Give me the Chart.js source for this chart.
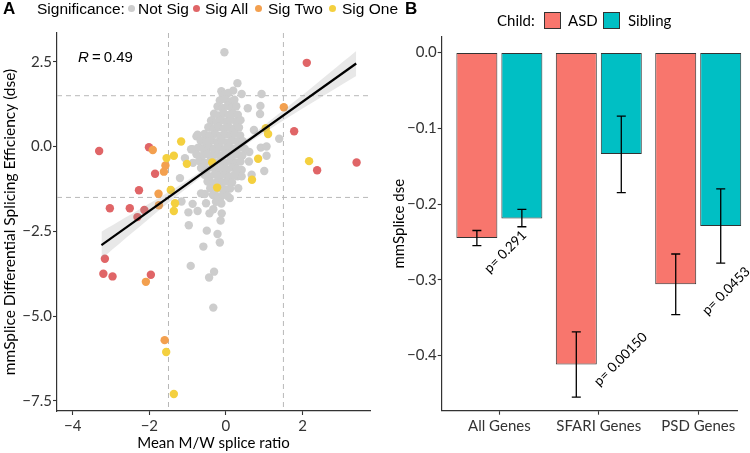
<!DOCTYPE html>
<html>
<head>
<meta charset="utf-8">
<script src="https://cdn.jsdelivr.net/npm/chart.js@4.4.1/dist/chart.umd.min.js"></script>
<style>
html, body { margin: 0; padding: 0; background: #fff; }
#wrap { position: relative; width: 750px; height: 453px; overflow: hidden; }
canvas { position: absolute; top: 0; }
#cA { left: 0; }
#cB { left: 385px; }
.t { position: absolute; white-space: nowrap; color: #000; z-index: 2; }
.panel { font: bold 17px 'Liberation Sans', Arial, sans-serif; top: 0; line-height: 17px; }
.sig { font: 15.5px 'Liberation Sans', Arial, sans-serif; line-height: 17px; top: 0; }
.dot { position: absolute; width: 7px; height: 7px; border-radius: 50%; top: 5px; z-index: 2; }
.child { font: 15px Lato, sans-serif; line-height: 18px; top: 11px; }
.sw { position: absolute; top: 12px; width: 15px; height: 15px; border: 1px solid #333; z-index: 2; }
</style>
</head>
<body>
<div id="wrap">
  <canvas id="cA" width="400" height="453"></canvas>
  <canvas id="cB" width="365" height="453"></canvas>

  <div class="t panel" style="left:3px">A</div>
  <div class="t sig" style="left:37px">Significance:</div>
  <div class="dot" style="left:128px;background:#cdcdcd"></div>
  <div class="t sig" style="left:138px">Not Sig</div>
  <div class="dot" style="left:193px;background:#e06567"></div>
  <div class="t sig" style="left:205px">Sig All</div>
  <div class="dot" style="left:255px;background:#f3a04f"></div>
  <div class="t sig" style="left:268px">Sig Two</div>
  <div class="dot" style="left:329px;background:#f4d03f"></div>
  <div class="t sig" style="left:342px">Sig One</div>

  <div class="t panel" style="left:405px">B</div>
  <div class="t child" style="left:497px">Child:</div>
  <div class="sw" style="left:544px;background:#F8766D"></div>
  <div class="t child" style="left:568px">ASD</div>
  <div class="sw" style="left:603px;background:#00BFC4"></div>
  <div class="t child" style="left:628px">Sibling</div>
</div>

<script>
// ---------- panel A data ----------
const xTicksA = [-4, -2, 0, 2];
const yTicksA = [-7.5, -5, -2.5, 0, 2.5];
const cutoffs = [-1.5, 1.5];

const notSig = [
  [-0.04, 2.78], [0.30, 1.87], [-0.12, 1.63], [0.19, 1.65], [0.41, 1.55], [0.57, 1.13], [0.90, 1.20],
  [0.89, 0.96], [1.39, 0.23], [0.91, -0.03], [1.06, -0.27], [0.60, -0.44], [0.41, -0.69], [0.30, -0.88],
  [-0.11, -1.97], [-0.55, -1.40], [0.73, 0.49], [0.93, 1.55], [-0.39, 0.76], [-0.42, 0.57], [-0.50, 0.30],
  [-0.77, 0.30], [-0.87, -0.08], [-1.07, -0.34], [-0.59, -0.05], [1.06, 0.0], [0.61, -0.16], [-1.20, -0.93],
  [-1.16, -1.62], [-0.87, -1.69], [-0.74, -1.90], [-0.65, -1.38], [-0.52, -1.67], [-0.43, -1.97],
  [-0.33, -1.85], [-0.16, -1.57], [-0.14, -2.18], [-0.97, -2.32], [-0.50, -2.48], [-0.22, -2.58],
  [-0.16, -2.83], [-0.59, -2.95], [-0.92, -3.52], [-0.31, -3.69], [-0.44, -3.86], [-0.33, -4.75],
  [0.32, -1.23], [0.41, -0.88], [0.67, -0.83], [1.00, -0.72], [0.10, -1.52], [-0.74, 0.35],
  [-0.91, -0.08], [-0.98, -1.94], [-0.86, -0.48],
  // dense cloud
  [-0.08, 1.52], [0.06, 1.58],
  [-0.16, 1.36], [-0.02, 1.40], [0.11, 1.33], [0.22, 1.38],
  [-0.22, 1.18], [-0.09, 1.13], [0.04, 1.20], [0.15, 1.14], [0.27, 1.19],
  [-0.31, 0.97], [-0.19, 0.92], [-0.06, 0.99], [0.07, 0.93], [0.19, 0.98], [0.31, 0.94],
  [-0.37, 0.77], [-0.24, 0.72], [-0.11, 0.78], [0.01, 0.73], [0.13, 0.79], [0.26, 0.74], [0.38, 0.78],
  [-0.46, 0.57], [-0.31, 0.52], [-0.18, 0.58], [-0.05, 0.53], [0.08, 0.57], [0.21, 0.52], [0.34, 0.56],
  [-0.56, 0.37], [-0.42, 0.33], [-0.28, 0.38], [-0.15, 0.32], [-0.02, 0.36], [0.11, 0.34], [0.24, 0.38], [0.37, 0.33],
  [-0.66, 0.17], [-0.51, 0.12], [-0.37, 0.18], [-0.23, 0.13], [-0.10, 0.17], [0.03, 0.12], [0.16, 0.18], [0.30, 0.14], [0.44, 0.16],
  [-0.72, -0.03], [-0.58, -0.08], [-0.44, -0.02], [-0.31, -0.07], [-0.17, -0.03], [-0.04, -0.08], [0.09, -0.02], [0.22, -0.07], [0.36, -0.03], [0.49, -0.06],
  [-0.77, -0.23], [-0.62, -0.28], [-0.48, -0.22], [-0.35, -0.27], [-0.22, -0.23], [-0.09, -0.28], [0.04, -0.22], [0.17, -0.27], [0.30, -0.23], [0.43, -0.26],
  [-0.70, -0.43], [-0.55, -0.48], [-0.41, -0.42], [-0.28, -0.47], [-0.15, -0.43], [-0.02, -0.48], [0.11, -0.42], [0.25, -0.47], [0.38, -0.44],
  [-0.65, -0.63], [-0.50, -0.68], [-0.36, -0.62], [-0.23, -0.67], [-0.10, -0.63], [0.03, -0.68], [0.16, -0.62], [0.29, -0.66],
  [-0.56, -0.83], [-0.42, -0.88], [-0.29, -0.82], [-0.16, -0.87], [-0.03, -0.83], [0.10, -0.88], [0.22, -0.84],
  [-0.48, -1.03], [-0.35, -1.08], [-0.22, -1.02], [-0.09, -1.07], [0.04, -1.03], [0.16, -1.06],
  [-0.41, -1.23], [-0.28, -1.28], [-0.14, -1.22], [-0.01, -1.27], [0.11, -1.24],
  [-0.34, -1.43], [-0.21, -1.48], [-0.08, -1.42], [0.04, -1.46],
  [-0.26, -1.63], [-0.12, -1.68]
];
const sigAll = [
  [-3.31, -0.13], [-2.01, -0.02], [-1.85, -0.80], [-2.27, -1.29], [-3.03, -1.82], [-2.51, -1.82],
  [-2.13, -1.87], [-2.31, -2.08], [-3.16, -3.31], [-3.20, -3.75], [-2.96, -3.83], [-1.96, -3.78],
  [2.11, 2.47], [1.78, 0.45], [2.38, -0.70], [3.41, -0.47]
];
const sigTwo = [
  [-1.91, -0.10], [-1.58, -0.56], [-1.62, -0.74], [-1.76, -1.39], [-1.75, -1.73], [-2.09, -3.99],
  [-1.60, -5.71], [1.51, 1.16]
];
const sigOne = [
  [-1.17, 0.15], [-1.36, -0.27], [-1.55, -0.34], [-1.02, -0.51], [-1.44, -1.28], [-1.33, -1.67],
  [-1.36, -1.90], [-1.56, -6.06], [-1.36, -7.30], [1.10, 0.37], [1.04, 0.54], [2.17, -0.43],
  [0.84, -0.36], [0.68, -0.98], [-0.23, -1.21], [-0.36, -0.47]
];

// regression line and its confidence band
const fitX = [-3.25, 3.40];
const fitY = [-2.91, 2.45];
const bandX = [-3.25, -2, -1, 0, 1, 2, 3.4];
const bandUpper = [-2.51, -1.68, -0.99, -0.23, 0.63, 1.52, 2.82];
const bandLower = [-3.31, -2.12, -1.21, -0.35, 0.41, 1.12, 2.08];
const rText = '0.49';

// ---------- panel B data ----------
const categories = ['All Genes', 'SFARI Genes', 'PSD Genes'];
const asdMean = [-0.245, -0.412, -0.306];
const asdLo = [-0.255, -0.455, -0.346];
const asdHi = [-0.235, -0.369, -0.266];
const sibMean = [-0.219, -0.134, -0.229];
const sibLo = [-0.230, -0.185, -0.278];
const sibHi = [-0.207, -0.084, -0.180];
const yTicksB = [-0.4, -0.3, -0.2, -0.1, 0];
const pLabels = ['p= 0.291', 'p= 0.00150', 'p= 0.0453'];
const pLabelX = [1.06, 2.22, 3.28];
const pLabelY = [-0.263, -0.405, -0.315];

Chart.defaults.font.family = "Lato, 'Open Sans', sans-serif";
Chart.defaults.animation = false;

const minus = s => String(s).replace('-', '\u2212');
const toXY = arr => arr.map(p => ({ x: p[0], y: p[1] }));
const zip = (xs, ys) => xs.map((x, i) => ({ x: x, y: ys[i] }));

function axisStyle(extra) {
  return Object.assign({
    grid: { display: true, drawOnChartArea: false, drawTicks: true, tickLength: 4, tickColor: '#333', tickWidth: 1.1, offset: false },
    border: { display: true, color: '#333', width: 1.2 },
  }, extra);
}

// dashed cut-off lines + R label
const guidesA = {
  id: 'guidesA',
  beforeDatasetsDraw(chart) {
    const { ctx, chartArea: a, scales: { x, y } } = chart;
    ctx.save();
    ctx.strokeStyle = '#b8b8b8';
    ctx.lineWidth = 1;
    ctx.setLineDash([5, 4]);
    cutoffs.forEach(c => {
      const px = x.getPixelForValue(c);
      ctx.beginPath(); ctx.moveTo(px, a.top); ctx.lineTo(px, a.bottom); ctx.stroke();
      const py = y.getPixelForValue(c);
      ctx.beginPath(); ctx.moveTo(a.left, py); ctx.lineTo(a.right, py); ctx.stroke();
    });
    ctx.restore();
  },
  afterDatasetsDraw(chart) {
    const { ctx, scales: { x, y } } = chart;
    const px = x.getPixelForValue(-3.86), py = y.getPixelForValue(2.62);
    ctx.save();
    ctx.fillStyle = '#000';
    ctx.textBaseline = 'middle';
    ctx.font = "italic 15px 'Liberation Sans', Arial, sans-serif";
    ctx.fillText('R', px, py);
    const w = ctx.measureText('R').width;
    ctx.font = "15px 'Liberation Sans', Arial, sans-serif";
    ctx.fillText('\u2009=\u2009' + rText, px + w, py);
    ctx.restore();
  }
};

new Chart(document.getElementById('cA'), {
  type: 'scatter',
  data: {
    datasets: [
      { type: 'line', data: zip(fitX, fitY), borderColor: '#000', borderWidth: 2.2, pointRadius: 0, order: 0 },
      { type: 'line', data: zip(bandX, bandUpper), borderWidth: 0, pointRadius: 0, tension: 0.3,
        fill: '+1', backgroundColor: 'rgba(150,150,150,0.22)', order: 1 },
      { type: 'line', data: zip(bandX, bandLower), borderWidth: 0, pointRadius: 0, tension: 0.3, fill: false, order: 1 },
      { label: 'Sig One', data: toXY(sigOne), backgroundColor: '#f4d03f', pointRadius: 4.2, pointBorderWidth: 0, order: 2 },
      { label: 'Sig Two', data: toXY(sigTwo), backgroundColor: '#f3a04f', pointRadius: 4.2, pointBorderWidth: 0, order: 3 },
      { label: 'Sig All', data: toXY(sigAll), backgroundColor: '#e06567', pointRadius: 4.2, pointBorderWidth: 0, order: 4 },
      { label: 'Not Sig', data: toXY(notSig), backgroundColor: '#cdcdcd', pointRadius: 4.2, pointBorderWidth: 0, order: 5 }
    ]
  },
  options: {
    responsive: false,
    devicePixelRatio: 1,
    layout: { padding: { left: 0, top: 33, right: 30, bottom: 0 } },
    plugins: { legend: { display: false }, tooltip: { enabled: false } },
    scales: {
      x: axisStyle({
        type: 'linear', min: -4.41, max: 3.76,
        afterBuildTicks: s => { s.ticks = xTicksA.map(v => ({ value: v })); },
        afterFit: s => { s.height = 42; },
        ticks: { callback: v => minus(v), font: { size: 15 }, color: '#333', padding: 2, maxRotation: 0, autoSkip: false },
        title: { display: true, text: 'Mean M/W splice ratio', font: { size: 15 }, color: '#000', padding: { top: 0, bottom: 1 } }
      }),
      y: axisStyle({
        type: 'linear', min: -7.8, max: 3.35,
        afterBuildTicks: s => { s.ticks = yTicksA.map(v => ({ value: v })); },
        afterFit: s => { s.width = 57; },
        ticks: { callback: v => minus(v.toFixed(1)), font: { size: 15 }, color: '#333', padding: 1, autoSkip: false },
        title: { display: true, text: 'mmSplice Differential Splicing Efficiency (dse)', font: { size: 15.5 }, color: '#000', padding: { top: 1, bottom: 0 } }
      })
    }
  },
  plugins: [guidesA]
});

// error bars + rotated p-values
const extrasB = {
  id: 'extrasB',
  afterDatasetsDraw(chart) {
    const { ctx, scales: { x, y } } = chart;
    ctx.save();
    ctx.strokeStyle = '#000';
    ctx.lineWidth = 1.3;
    chart.data.datasets.forEach((ds, di) => {
      chart.getDatasetMeta(di).data.forEach((bar, i) => {
        const lo = y.getPixelForValue(ds.errLo[i]), hi = y.getPixelForValue(ds.errHi[i]);
        const w = bar.width * 0.11;
        ctx.beginPath();
        ctx.moveTo(bar.x, lo); ctx.lineTo(bar.x, hi);
        ctx.moveTo(bar.x - w, lo); ctx.lineTo(bar.x + w, lo);
        ctx.moveTo(bar.x - w, hi); ctx.lineTo(bar.x + w, hi);
        ctx.stroke();
      });
    });
    ctx.fillStyle = '#000';
    ctx.font = '13.5px Lato, sans-serif';
    ctx.textAlign = 'center';
    ctx.textBaseline = 'middle';
    pLabels.forEach((t, i) => {
      ctx.save();
      ctx.translate(x.getPixelForValue(pLabelX[i]), y.getPixelForValue(pLabelY[i]));
      ctx.rotate(-Math.PI / 4);
      ctx.fillText(t, 0, 0);
      ctx.restore();
    });
    ctx.restore();
  }
};

new Chart(document.getElementById('cB'), {
  type: 'bar',
  data: {
    datasets: [
      { label: 'ASD', data: zip([1, 2, 3], asdMean), errLo: asdLo, errHi: asdHi,
        backgroundColor: '#F8766D', borderColor: '#333', borderWidth: 1, borderSkipped: false, clip: false },
      { label: 'Sibling', data: zip([1, 2, 3], sibMean), errLo: sibLo, errHi: sibHi,
        backgroundColor: '#00BFC4', borderColor: '#333', borderWidth: 1, borderSkipped: false, clip: false }
    ]
  },
  options: {
    responsive: false,
    devicePixelRatio: 1,
    categoryPercentage: 0.905,
    barPercentage: 0.911,
    layout: { padding: { left: 0, top: 36.7, right: 13, bottom: 0 } },
    plugins: { legend: { display: false }, tooltip: { enabled: false } },
    scales: {
      x: axisStyle({
        type: 'linear', min: 0.42, max: 3.39, offset: false,
        afterBuildTicks: s => { s.ticks = [1, 2, 3].map(v => ({ value: v })); },
        afterFit: s => { s.height = 42.3; },
        ticks: { callback: v => categories[v - 1], font: { size: 15 }, color: '#333', padding: 2, maxRotation: 0, autoSkip: false }
      }),
      y: axisStyle({
        type: 'linear', min: -0.473, max: 0.021,
        afterBuildTicks: s => { s.ticks = yTicksB.map(v => ({ value: v })); },
        afterFit: s => { s.width = 56.7; },
        ticks: { callback: v => minus(v.toFixed(1)), font: { size: 15 }, color: '#333', padding: 1, autoSkip: false },
        title: { display: true, text: 'mmSplice dse', font: { size: 15 }, color: '#000', padding: { top: 5, bottom: 0 } }
      })
    }
  },
  plugins: [extrasB]
});
</script>
</body>
</html>
